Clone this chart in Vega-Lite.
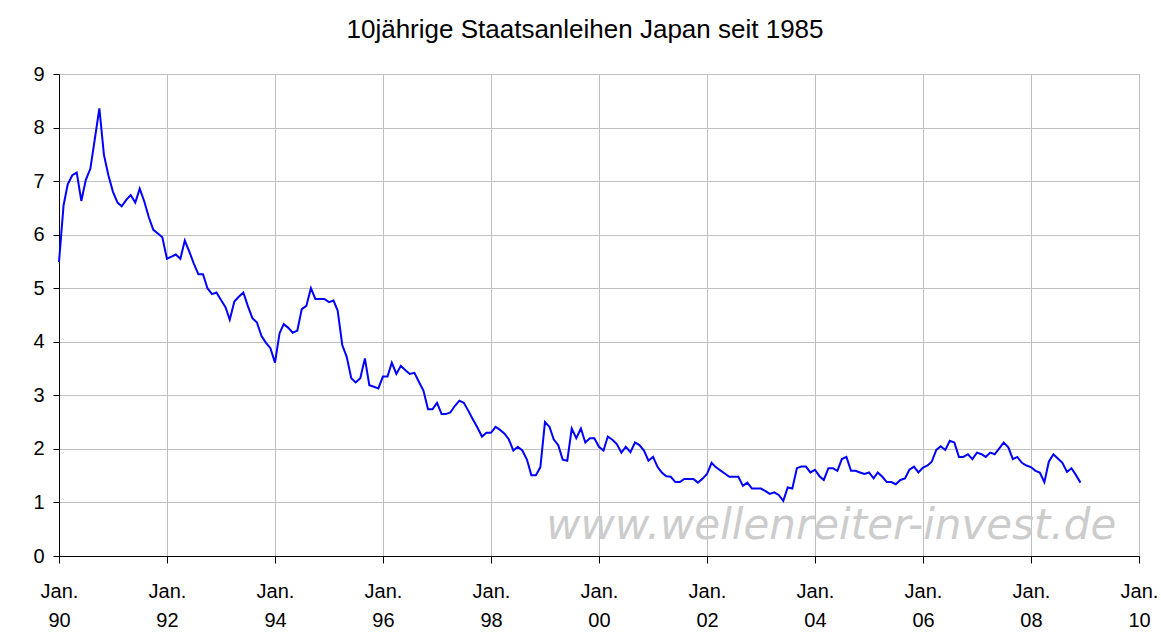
{
  "$schema": "https://vega.github.io/schema/vega-lite/v6.json",
  "autosize": {"type": "none"},
  "padding": {"left": 59, "top": 74, "right": 22, "bottom": 81},
  "width": 1080,
  "height": 482,
  "background": "white",
  "title": {
    "text": "10jährige Staatsanleihen Japan seit 1985",
    "font": "Liberation Sans",
    "fontSize": 26,
    "fontWeight": "normal",
    "color": "black",
    "frame": "group",
    "anchor": "middle",
    "baseline": "alphabetic",
    "offset": 0,
    "dx": -14
  },
  "config": {
    "view": {"stroke": "#a0a0a0", "strokeWidth": 1}
  },
  "layer": [
    {
      "data": {
        "values": [
          {"d":"1990-01","v":5.49},{"d":"1990-02","v":6.55},{"d":"1990-03","v":6.94},{"d":"1990-04","v":7.11},{"d":"1990-05","v":7.16},{"d":"1990-06","v":6.63},{"d":"1990-07","v":7.02},{"d":"1990-08","v":7.23},{"d":"1990-09","v":7.80},{"d":"1990-10","v":8.36},{"d":"1990-11","v":7.49},{"d":"1990-12","v":7.11},
          {"d":"1991-01","v":6.80},{"d":"1991-02","v":6.60},{"d":"1991-03","v":6.53},{"d":"1991-04","v":6.65},{"d":"1991-05","v":6.74},{"d":"1991-06","v":6.60},{"d":"1991-07","v":6.86},{"d":"1991-08","v":6.62},{"d":"1991-09","v":6.32},{"d":"1991-10","v":6.09},{"d":"1991-11","v":6.02},{"d":"1991-12","v":5.95},
          {"d":"1992-01","v":5.55},{"d":"1992-02","v":5.59},{"d":"1992-03","v":5.63},{"d":"1992-04","v":5.55},{"d":"1992-05","v":5.89},{"d":"1992-06","v":5.68},{"d":"1992-07","v":5.46},{"d":"1992-08","v":5.26},{"d":"1992-09","v":5.26},{"d":"1992-10","v":5.00},{"d":"1992-11","v":4.89},{"d":"1992-12","v":4.92},
          {"d":"1993-01","v":4.78},{"d":"1993-02","v":4.64},{"d":"1993-03","v":4.41},{"d":"1993-04","v":4.75},{"d":"1993-05","v":4.84},{"d":"1993-06","v":4.92},{"d":"1993-07","v":4.67},{"d":"1993-08","v":4.44},{"d":"1993-09","v":4.36},{"d":"1993-10","v":4.11},{"d":"1993-11","v":3.98},{"d":"1993-12","v":3.88},
          {"d":"1994-01","v":3.61},{"d":"1994-02","v":4.16},{"d":"1994-03","v":4.33},{"d":"1994-04","v":4.26},{"d":"1994-05","v":4.17},{"d":"1994-06","v":4.21},{"d":"1994-07","v":4.61},{"d":"1994-08","v":4.67},{"d":"1994-09","v":5.00},{"d":"1994-10","v":4.80},{"d":"1994-11","v":4.80},{"d":"1994-12","v":4.80},
          {"d":"1995-01","v":4.74},{"d":"1995-02","v":4.77},{"d":"1995-03","v":4.58},{"d":"1995-04","v":3.94},{"d":"1995-05","v":3.72},{"d":"1995-06","v":3.32},{"d":"1995-07","v":3.24},{"d":"1995-08","v":3.32},{"d":"1995-09","v":3.69},{"d":"1995-10","v":3.19},{"d":"1995-11","v":3.16},{"d":"1995-12","v":3.13},
          {"d":"1996-01","v":3.35},{"d":"1996-02","v":3.35},{"d":"1996-03","v":3.61},{"d":"1996-04","v":3.40},{"d":"1996-05","v":3.55},{"d":"1996-06","v":3.47},{"d":"1996-07","v":3.40},{"d":"1996-08","v":3.42},{"d":"1996-09","v":3.25},{"d":"1996-10","v":3.09},{"d":"1996-11","v":2.74},{"d":"1996-12","v":2.74},
          {"d":"1997-01","v":2.86},{"d":"1997-02","v":2.65},{"d":"1997-03","v":2.65},{"d":"1997-04","v":2.68},{"d":"1997-05","v":2.80},{"d":"1997-06","v":2.90},{"d":"1997-07","v":2.86},{"d":"1997-08","v":2.71},{"d":"1997-09","v":2.55},{"d":"1997-10","v":2.40},{"d":"1997-11","v":2.23},{"d":"1997-12","v":2.30},
          {"d":"1998-01","v":2.30},{"d":"1998-02","v":2.41},{"d":"1998-03","v":2.36},{"d":"1998-04","v":2.29},{"d":"1998-05","v":2.18},{"d":"1998-06","v":1.97},{"d":"1998-07","v":2.04},{"d":"1998-08","v":1.97},{"d":"1998-09","v":1.80},{"d":"1998-10","v":1.51},{"d":"1998-11","v":1.51},{"d":"1998-12","v":1.66},
          {"d":"1999-01","v":2.50},{"d":"1999-02","v":2.41},{"d":"1999-03","v":2.18},{"d":"1999-04","v":2.07},{"d":"1999-05","v":1.80},{"d":"1999-06","v":1.78},{"d":"1999-07","v":2.38},{"d":"1999-08","v":2.20},{"d":"1999-09","v":2.38},{"d":"1999-10","v":2.12},{"d":"1999-11","v":2.20},{"d":"1999-12","v":2.20},
          {"d":"2000-01","v":2.04},{"d":"2000-02","v":1.97},{"d":"2000-03","v":2.23},{"d":"2000-04","v":2.17},{"d":"2000-05","v":2.09},{"d":"2000-06","v":1.93},{"d":"2000-07","v":2.04},{"d":"2000-08","v":1.94},{"d":"2000-09","v":2.12},{"d":"2000-10","v":2.07},{"d":"2000-11","v":1.97},{"d":"2000-12","v":1.78},
          {"d":"2001-01","v":1.85},{"d":"2001-02","v":1.66},{"d":"2001-03","v":1.56},{"d":"2001-04","v":1.49},{"d":"2001-05","v":1.48},{"d":"2001-06","v":1.38},{"d":"2001-07","v":1.38},{"d":"2001-08","v":1.44},{"d":"2001-09","v":1.44},{"d":"2001-10","v":1.44},{"d":"2001-11","v":1.37},{"d":"2001-12","v":1.44},
          {"d":"2002-01","v":1.53},{"d":"2002-02","v":1.74},{"d":"2002-03","v":1.66},{"d":"2002-04","v":1.60},{"d":"2002-05","v":1.54},{"d":"2002-06","v":1.48},{"d":"2002-07","v":1.48},{"d":"2002-08","v":1.48},{"d":"2002-09","v":1.31},{"d":"2002-10","v":1.37},{"d":"2002-11","v":1.26},{"d":"2002-12","v":1.26},
          {"d":"2003-01","v":1.26},{"d":"2003-02","v":1.21},{"d":"2003-03","v":1.16},{"d":"2003-04","v":1.19},{"d":"2003-05","v":1.14},{"d":"2003-06","v":1.03},{"d":"2003-07","v":1.28},{"d":"2003-08","v":1.26},{"d":"2003-09","v":1.64},{"d":"2003-10","v":1.67},{"d":"2003-11","v":1.67},{"d":"2003-12","v":1.56},
          {"d":"2004-01","v":1.61},{"d":"2004-02","v":1.49},{"d":"2004-03","v":1.42},{"d":"2004-04","v":1.64},{"d":"2004-05","v":1.64},{"d":"2004-06","v":1.59},{"d":"2004-07","v":1.81},{"d":"2004-08","v":1.85},{"d":"2004-09","v":1.59},{"d":"2004-10","v":1.59},{"d":"2004-11","v":1.56},{"d":"2004-12","v":1.53},
          {"d":"2005-01","v":1.56},{"d":"2005-02","v":1.45},{"d":"2005-03","v":1.56},{"d":"2005-04","v":1.48},{"d":"2005-05","v":1.38},{"d":"2005-06","v":1.38},{"d":"2005-07","v":1.34},{"d":"2005-08","v":1.42},{"d":"2005-09","v":1.45},{"d":"2005-10","v":1.61},{"d":"2005-11","v":1.67},{"d":"2005-12","v":1.56},
          {"d":"2006-01","v":1.65},{"d":"2006-02","v":1.69},{"d":"2006-03","v":1.76},{"d":"2006-04","v":1.98},{"d":"2006-05","v":2.05},{"d":"2006-06","v":1.98},{"d":"2006-07","v":2.15},{"d":"2006-08","v":2.12},{"d":"2006-09","v":1.85},{"d":"2006-10","v":1.85},{"d":"2006-11","v":1.90},{"d":"2006-12","v":1.81},
          {"d":"2007-01","v":1.93},{"d":"2007-02","v":1.90},{"d":"2007-03","v":1.85},{"d":"2007-04","v":1.93},{"d":"2007-05","v":1.90},{"d":"2007-06","v":2.01},{"d":"2007-07","v":2.12},{"d":"2007-08","v":2.03},{"d":"2007-09","v":1.81},{"d":"2007-10","v":1.85},{"d":"2007-11","v":1.74},{"d":"2007-12","v":1.69},
          {"d":"2008-01","v":1.66},{"d":"2008-02","v":1.59},{"d":"2008-03","v":1.56},{"d":"2008-04","v":1.38},{"d":"2008-05","v":1.76},{"d":"2008-06","v":1.90},{"d":"2008-07","v":1.82},{"d":"2008-08","v":1.74},{"d":"2008-09","v":1.57},{"d":"2008-10","v":1.64},{"d":"2008-11","v":1.51},{"d":"2008-12","v":1.37}
        ],
        "format": {"parse": {"d": "date:'%Y-%m'"}}
      },
      "mark": {"type": "line", "color": "#0000ff", "strokeWidth": 2},
      "encoding": {
        "x": {
          "field": "d",
          "type": "temporal",
          "scale": {"domain": [{"year": 1990, "month": 1, "date": 1}, {"year": 2010, "month": 1, "date": 1}]},
          "axis": {
            "title": null,
            "values": [
              {"year": 1990, "month": 1, "date": 1}, {"year": 1992, "month": 1, "date": 1}, {"year": 1994, "month": 1, "date": 1},
              {"year": 1996, "month": 1, "date": 1}, {"year": 1998, "month": 1, "date": 1}, {"year": 2000, "month": 1, "date": 1},
              {"year": 2002, "month": 1, "date": 1}, {"year": 2004, "month": 1, "date": 1}, {"year": 2006, "month": 1, "date": 1},
              {"year": 2008, "month": 1, "date": 1}, {"year": 2010, "month": 1, "date": 1}
            ],
            "labelExpr": "['Jan.', timeFormat(datum.value, '%y')]",
            "labelFont": "Liberation Sans",
            "labelFontSize": 20,
            "labelColor": "black",
            "labelLineHeight": 29,
            "labelBaseline": "top",
            "labelPadding": 18,
            "labelAngle": 0,
            "labelOverlap": false,
            "labelFlush": false,
            "labelBound": false,
            "tickColor": "black",
            "tickSize": 7,
            "tickWidth": 1,
            "domainColor": "black",
            "domainWidth": 1,
            "grid": true,
            "gridColor": "#c0c0c0",
            "gridWidth": 1
          }
        },
        "y": {
          "field": "v",
          "type": "quantitative",
          "scale": {"domain": [0, 9], "nice": false},
          "axis": {
            "title": null,
            "values": [0, 1, 2, 3, 4, 5, 6, 7, 8, 9],
            "format": "d",
            "labelFont": "Liberation Sans",
            "labelFontSize": 20,
            "labelColor": "black",
            "labelPadding": 9,
            "labelFlush": false,
            "labelBound": false,
            "tickColor": "black",
            "tickSize": 6,
            "tickWidth": 1,
            "domainColor": "black",
            "domainWidth": 1,
            "grid": true,
            "gridColor": "#c0c0c0",
            "gridWidth": 1
          }
        }
      }
    },
    {
      "data": {"values": [{"label": "www.wellenreiter-invest.de"}]},
      "mark": {
        "type": "text",
        "font": "DejaVu Sans",
        "fontStyle": "italic",
        "fontSize": 42,
        "color": "#cccccc",
        "align": "right",
        "baseline": "alphabetic"
      },
      "encoding": {
        "x": {"datum": {"year": 2009, "month": 8, "date": 1}, "type": "temporal"},
        "y": {"datum": 0.32, "type": "quantitative"},
        "text": {"field": "label"}
      }
    }
  ]
}
